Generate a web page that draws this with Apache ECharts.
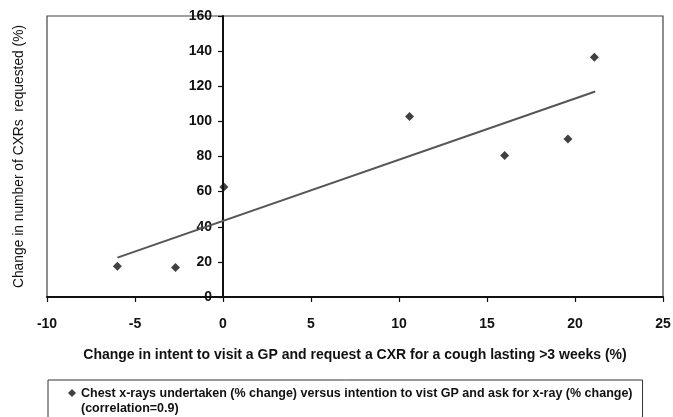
<!DOCTYPE html>
<html>
<head>
<meta charset="utf-8">
<script src="https://cdn.jsdelivr.net/npm/echarts@6/dist/echarts.min.js"></script>
<style>
  html, body { margin: 0; padding: 0; background: #fff; }
  #chart { width: 673px; height: 417px; }
</style>
</head>
<body>
<div id="chart"></div>
<script>
// scatter of CXR change vs intent change, with fitted trend line
var intentChange = [-6.0, -2.7, 0.05, 10.6, 16.0, 19.6, 21.1];
var cxrChange = [17.5, 16.8, 62.7, 102.8, 80.6, 89.9, 136.5];
var trendX = [-6.0, 21.15];
var trendY = [22.4, 117.0];
var xTicks = { min: -10, max: 25, step: 5 };
var yTicks = { min: 0, max: 160, step: 20 };

var seriesName = "Chest x-rays undertaken (% change) versus intention to vist GP and ask for x-ray (% change)\n(correlation=0.9)";
var font = "'Liberation Sans', Arial, sans-serif";

var gridLeft = 47, gridRight = 10;
var plotW = 673 - gridLeft - gridRight;

function pairs(xs, ys) {
  return xs.map(function (x, i) { return [x, ys[i]]; });
}

// the y axis crosses at x = 0, so shift it inward by the pixel distance of 0 from min
var yAxisOffset = -plotW * (0 - xTicks.min) / (xTicks.max - xTicks.min);

var c = echarts.init(document.getElementById("chart"), null, { renderer: "canvas" });
c.setOption({
  animation: false,
  grid: {
    left: gridLeft, right: gridRight, top: 16, bottom: 120,
    containLabel: false, outerBoundsMode: "none",
    show: true, borderColor: "#444", borderWidth: 1.2
  },
  legend: {
    left: 48, top: 380,
    data: [{ name: seriesName, icon: "path://M5,0 L10,5 L5,10 L0,5 Z M0,30 L0,30" }],
    itemWidth: 8, itemHeight: 24,
    padding: [6, 10, 20, 20],
    borderColor: "#333", borderWidth: 1,
    textStyle: { fontFamily: font, fontWeight: "bold", fontSize: 12.5, color: "#111", lineHeight: 15 },
    selectedMode: false
  },
  xAxis: {
    type: "value", min: xTicks.min, max: xTicks.max, interval: xTicks.step,
    name: "Change in intent to visit a GP and request a CXR for a cough lasting >3 weeks (%)",
    nameLocation: "middle", nameGap: 51, nameMoveOverlap: false,
    nameTextStyle: { fontFamily: font, fontWeight: "bold", fontSize: 14, color: "#111" },
    axisLine: { lineStyle: { color: "#111", width: 2 } },
    axisTick: { length: 5, lineStyle: { color: "#111", width: 1.2 } },
    axisLabel: { margin: 20, fontFamily: font, fontWeight: "bold", fontSize: 14, color: "#111" },
    splitLine: { show: false }
  },
  yAxis: {
    type: "value", min: yTicks.min, max: yTicks.max, interval: yTicks.step,
    offset: yAxisOffset,
    name: "Change in number of CXRs  requested (%)",
    nameLocation: "middle", nameGap: 197, nameRotate: 90, nameMoveOverlap: false,
    nameTextStyle: { fontFamily: font, fontSize: 13.8, color: "#111" },
    axisLine: { onZero: false, lineStyle: { color: "#111", width: 2 } },
    axisTick: { length: 5, lineStyle: { color: "#111", width: 1.2 } },
    axisLabel: { margin: 11, fontFamily: font, fontWeight: "bold", fontSize: 14, color: "#111" },
    splitLine: { show: false }
  },
  series: [
    {
      name: "trend", type: "line", data: pairs(trendX, trendY),
      showSymbol: false, silent: true,
      lineStyle: { color: "#555", width: 2 }
    },
    {
      name: seriesName, type: "scatter", data: pairs(intentChange, cxrChange),
      symbol: "diamond", symbolSize: 9,
      itemStyle: { color: "#111" }
    }
  ]
});
</script>
</body>
</html>
